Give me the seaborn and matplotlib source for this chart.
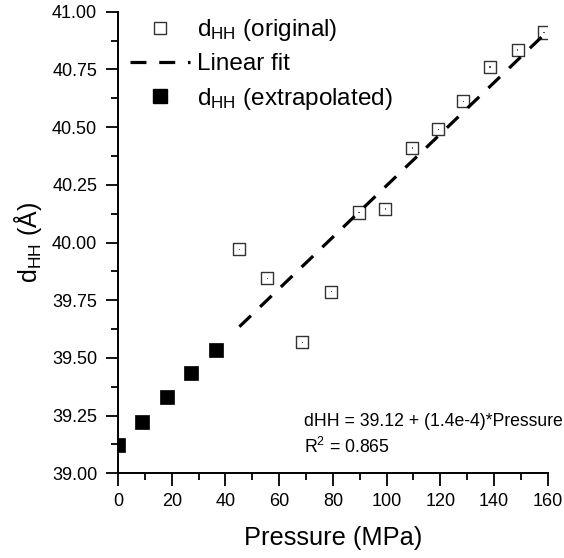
import numpy as np
import pandas as pd
import seaborn as sns
import matplotlib.pyplot as plt
from matplotlib.lines import Line2D
from matplotlib.ticker import MultipleLocator, FormatStrFormatter

sns.set_style("ticks")
plt.rcParams['font.family'] = ['Liberation Sans', 'DejaVu Sans']
plt.rcParams['mathtext.fontset'] = 'custom'
plt.rcParams['mathtext.rm'] = 'Liberation Sans'
plt.rcParams['mathtext.it'] = 'Liberation Sans:italic'
plt.rcParams['text.color'] = 'black'
plt.rcParams['axes.labelcolor'] = 'black'

# original measurements
orig_p = [45.2, 55.6, 68.7, 79.5, 89.7, 99.6, 109.6, 119.3, 128.6, 138.5, 148.8, 158.7]
orig_d = [39.97, 39.845, 39.567, 39.787, 40.13, 40.145, 40.41, 40.49, 40.612, 40.76, 40.835, 40.91]

# extrapolated values
extra_p = [0.0, 8.8, 18.2, 27.1, 36.4]
extra_d = [39.123, 39.224, 39.329, 39.433, 39.534]

# linear fit end points
fit_p = [45.2, 158.6]
fit_d = [39.635, 40.90]

orig = pd.DataFrame({'p': orig_p, 'd': orig_d})
extra = pd.DataFrame({'p': extra_p, 'd': extra_d})
fit = pd.DataFrame({'p': fit_p, 'd': fit_d})

fig = plt.figure(figsize=(5.64, 5.58), dpi=100)
ax = fig.add_axes([0.2092, 0.1518, 0.7618, 0.8272])

sns.scatterplot(data=extra, x='p', y='d', ax=ax, marker='s', s=90,
                color='black', edgecolor='black', linewidth=0.5, zorder=3)
sns.scatterplot(data=orig, x='p', y='d', ax=ax, marker='s', s=75,
                facecolor='none', edgecolor='#333333', linewidth=1.0, zorder=3)
sns.scatterplot(data=orig, x='p', y='d', ax=ax, marker='s', s=1.2,
                color='#555555', edgecolor='none', zorder=3)
sns.lineplot(data=fit, x='p', y='d', ax=ax, color='black', lw=2.3,
             linestyle=(0, (5, 4)), zorder=4)

ax.set_xlim(0, 160)
ax.set_ylim(39.0, 41.0)
ax.xaxis.set_major_locator(MultipleLocator(20))
ax.xaxis.set_minor_locator(MultipleLocator(10))
ax.yaxis.set_major_locator(MultipleLocator(0.25))
ax.yaxis.set_minor_locator(MultipleLocator(0.125))
ax.yaxis.set_major_formatter(FormatStrFormatter('%.2f'))
sns.despine(ax=ax)
for s in ['left', 'bottom']:
    ax.spines[s].set_linewidth(1.4)
    ax.spines[s].set_color('black')
ax.tick_params(which='major', length=9, width=1.3, color='black',
               labelsize=13, pad=5, labelcolor='black')
ax.tick_params(which='minor', length=4.7, width=1.3, color='black')
ax.tick_params(axis='y', which='major', pad=6)

ax.set_xlabel('Pressure (MPa)', fontsize=18.3, labelpad=12, color='black')
ax.set_ylabel(r'd$_{\rm HH}$ (Å)', fontsize=18, labelpad=6, color='black')

handles = [
    Line2D([], [], marker='s', ls='none', ms=8.5, mfc='none', mec='#333333', mew=1.0),
    Line2D([], [], color='black', lw=2.3, ls=(0, (5, 4))),
    Line2D([], [], marker='s', ls='none', ms=9.5, mfc='black', mec='black'),
]
labels = [r'd$_{\rm HH}$ (original)', 'Linear fit', r'd$_{\rm HH}$ (extrapolated)']
leg = ax.legend(handles, labels, loc='upper left', bbox_to_anchor=(0.028, 0.988),
                frameon=False, fontsize=17.5, handlelength=2.47, handletextpad=0.29,
                labelspacing=0.42, borderpad=0, borderaxespad=0)
for t in leg.get_texts():
    t.set_color('black')

ax.text(0.433, 0.0446, 'dHH = 39.12 + (1.4e-4)*Pressure\nR$^2$ = 0.865',
        transform=ax.transAxes, fontsize=12.7, ha='left', va='baseline',
        linespacing=1.38, color='black')

fig.savefig('out.png', dpi=100)
